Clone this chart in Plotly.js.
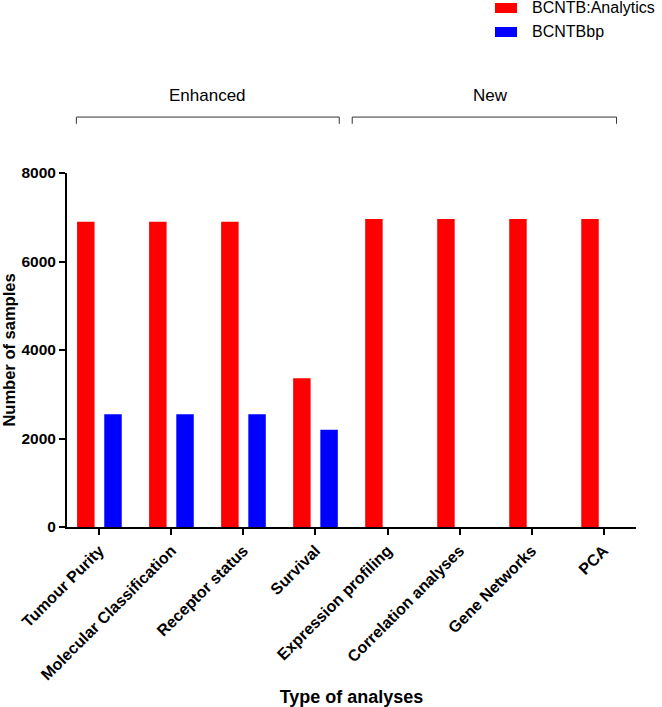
<!DOCTYPE html>
<html>
<head>
<meta charset="utf-8">
<script src="https://cdn.plot.ly/plotly-3.0.1.min.js"></script>
<style>html,body{margin:0;padding:0;background:#fff;}#chart{width:662px;height:707px;}</style>
</head>
<body>
<div id="chart"></div>
<script>
const categories = ["Tumour Purity", "Molecular Classification", "Receptor status", "Survival",
  "Expression profiling", "Correlation analyses", "Gene Networks", "PCA"];
const seriesNames = ["BCNTB:Analytics", "BCNTBbp"];
const analyticsValues = [6900, 6900, 6900, 3360, 6960, 6960, 6960, 6960];
const bpValues = [2550, 2550, 2550, 2200, 0, 0, 0, 0];
const groupLabels = ["Enhanced", "New"];
const groupStart = [-0.32, 3.51];
const groupEnd = [3.33, 7.18];
const groupCenter = [1.5, 5.43];
const colors = ["#ff0000", "#0000ff"];

const FONT = "Arial, 'Liberation Sans', sans-serif";

const traces = [
  {type: "bar", name: seriesNames[0], x: categories, y: analyticsValues,
   marker: {color: colors[0]}, showlegend: false, hoverinfo: "x+y"},
  {type: "bar", name: seriesNames[1], x: categories, y: bpValues,
   marker: {color: colors[1]}, showlegend: false, hoverinfo: "x+y"}
];

const shapes = [];
const annotations = [];
for (let g = 0; g < groupLabels.length; g++) {
  shapes.push({type: "line", xref: "x", yref: "paper", x0: groupStart[g], x1: groupEnd[g], y0: 1.158, y1: 1.158,
    line: {color: "#333", width: 1}});
  shapes.push({type: "line", xref: "x", yref: "paper", x0: groupStart[g], x1: groupStart[g], y0: 1.158, y1: 1.139,
    line: {color: "#333", width: 1}});
  shapes.push({type: "line", xref: "x", yref: "paper", x0: groupEnd[g], x1: groupEnd[g], y0: 1.158, y1: 1.139,
    line: {color: "#333", width: 1}});
  annotations.push({xref: "x", yref: "paper", x: groupCenter[g], y: 1.218, text: groupLabels[g],
    showarrow: false, xanchor: "center", yanchor: "middle", font: {family: FONT, size: 17, color: "#000"}});
}
// legend drawn manually
const legendY = [8, 32];
for (let i = 0; i < seriesNames.length; i++) {
  shapes.push({type: "rect", xref: "paper", yref: "paper",
    x0: (495 - 67) / 569, x1: (517 - 67) / 569,
    y0: (527 - legendY[i] + 5) / 354, y1: (527 - legendY[i] - 5) / 354,
    fillcolor: colors[i], line: {width: 0}});
  annotations.push({xref: "paper", yref: "paper", x: (530 - 67) / 569, y: (527 - legendY[i]) / 354,
    text: seriesNames[i], showarrow: false, xanchor: "left", yanchor: "middle",
    font: {family: FONT, size: 16, color: "#000"}});
}

const layout = {
  width: 662, height: 707,
  margin: {l: 67, r: 26, t: 173, b: 180, pad: 0},
  paper_bgcolor: "#fff", plot_bgcolor: "#fff",
  barmode: "group", bargap: 0.245, bargroupgap: 0.357,
  font: {family: FONT, color: "#000"},
  xaxis: {
    type: "category", range: [-0.45, 7.45], tickangle: -45,
    showline: true, linecolor: "#000", linewidth: 2,
    ticks: "outside", ticklen: 6, tickwidth: 2, tickcolor: "#000",
    showgrid: false, zeroline: false,
    tickfont: {family: FONT, size: 16, weight: 700, color: "#000"},
    title: {text: "Type of analyses", font: {family: FONT, size: 18, weight: 700, color: "#000"}, standoff: 17}
  },
  yaxis: {
    range: [0, 8000], tickvals: [0, 2000, 4000, 6000, 8000],
    showline: true, linecolor: "#000", linewidth: 2,
    ticks: "outside", ticklen: 6, tickwidth: 2, tickcolor: "#000",
    showgrid: false, zeroline: false,
    tickfont: {family: FONT, size: 15.5, weight: 700, color: "#000"},
    title: {text: "Number of samples", font: {family: FONT, size: 16.5, weight: 700, color: "#000"}, standoff: 4}
  },
  shapes: shapes,
  annotations: annotations,
  showlegend: false
};

Plotly.newPlot("chart", traces, layout, {displayModeBar: false, staticPlot: true});
</script>
</body>
</html>
